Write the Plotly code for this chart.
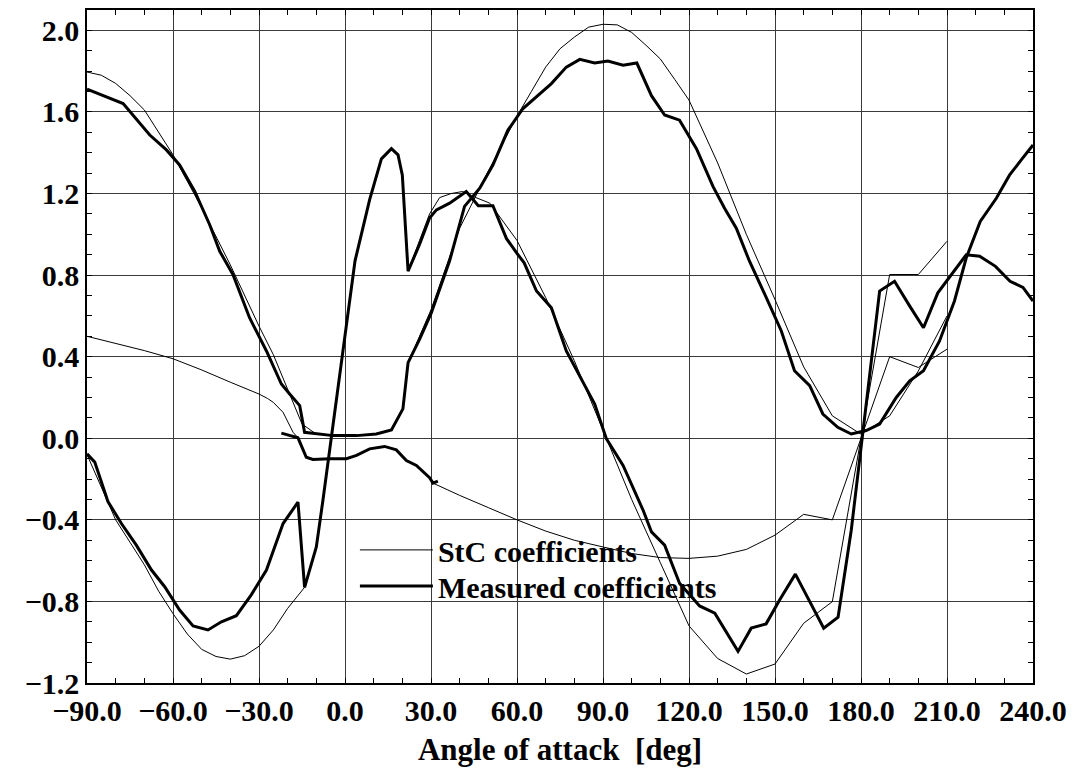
import plotly.graph_objects as go

# ---------------- data ----------------
# Measured drag coefficient
meas_cd_alpha = [-90, -77.4, -68.1, -62.3, -57.7, -52.4, -47.2, -43.7, -39.1, -33.3, -27.4, -22.2, -19.3, -15.8,
                 -14.1, -4.2, 4.0, 10.9, 16.2, 20.2, 22.0, 26.0, 30.1, 36.5, 41.7, 47.0, 51.6, 56.8, 62.1, 66.8,
                 72.0, 77.2, 81.9, 87.1, 91.7, 97.0, 101.8, 106.9, 111.5, 116.7, 122.6, 128.4, 132.4, 136.5,
                 141.1, 147.0, 152.2, 156.8, 162.1, 166.7, 171.9, 176.6, 181.8, 186.5, 192.3, 197.0, 201.8,
                 207.4, 212.6, 216.7, 221.6, 227.2, 231.8, 235.9, 240.0]
meas_cd = [1.712, 1.641, 1.487, 1.414, 1.34, 1.21, 1.047, 0.917, 0.803, 0.591, 0.428, 0.266, 0.217, 0.16,
           0.029, 0.013, 0.013, 0.021, 0.041, 0.144, 0.371, 0.485, 0.615, 0.87, 1.137, 1.226, 1.34, 1.51, 1.617,
           1.674, 1.739, 1.82, 1.858, 1.84, 1.85, 1.829, 1.84, 1.68, 1.585, 1.56, 1.42, 1.234, 1.128, 1.03,
           0.868, 0.689, 0.526, 0.331, 0.258, 0.119, 0.054, 0.021, 0.038, 0.07, 0.2, 0.282, 0.331, 0.477,
           0.673, 0.884, 1.063, 1.177, 1.29, 1.365, 1.438]

# Measured lift coefficient
meas_cl_alpha = [-90, -87.3, -82.7, -78.0, -72.8, -67.5, -62.9, -57.7, -53.0, -47.8, -43.1, -37.9, -32.7, -27.4,
                 -21.6, -16.4, -14.1, -10.0, -7.7, -1.3, 3.5, 8.6, 12.7, 16.2, 18.5, 20.0, 22.0, 26.0, 29.5,
                 31.9, 36.5, 42.3, 46.5, 51.6, 56.3, 59.8, 62.5, 66.8, 72.0, 77.2, 83.0, 87.1, 91.2, 97.0,
                 104.0, 106.9, 111.5, 116.7, 123.7, 129.0, 137.1, 141.7, 146.9, 151.6, 157.1, 162.1, 167.0,
                 172.0, 176.6, 186.5, 191.7, 197.0, 201.8, 206.8, 213.2, 216.7, 221.4, 226.9, 232.0, 236.5, 240.0]
meas_cl = [-0.076, -0.117, -0.31, -0.418, -0.524, -0.646, -0.728, -0.842, -0.92, -0.94, -0.90, -0.87, -0.768,
           -0.646, -0.418, -0.313, -0.731, -0.533, -0.304, 0.38, 0.87, 1.17, 1.37, 1.42, 1.39, 1.29, 0.82, 0.95,
           1.08, 1.12, 1.153, 1.21, 1.14, 1.14, 0.98, 0.91, 0.86, 0.722, 0.64, 0.428, 0.274, 0.168, -0.003,
           -0.133, -0.353, -0.459, -0.524, -0.711, -0.822, -0.858, -1.045, -0.931, -0.91, -0.793, -0.666,
           -0.801, -0.931, -0.877, -0.451, 0.722, 0.77, 0.648, 0.542, 0.713, 0.835, 0.90, 0.893, 0.843, 0.77,
           0.74, 0.673]

# Measured moment coefficient
meas_cm_alpha = [-22.2, -16.4, -13.5, -11.2, -5.3, 0.5, 4.0, 8.6, 13.8, 17.9, 21.4, 24.9, 29.5, 30.7, 32.4]
meas_cm = [0.025, 0.002, -0.093, -0.104, -0.10, -0.10, -0.084, -0.052, -0.04, -0.057, -0.109, -0.133, -0.193,
           -0.22, -0.21]

# StC drag coefficient
stc_cd_alpha = [-90, -85, -80, -75, -70, -65, -60, -50, -40, -30, -25, -20, -15, -10, 0, 10, 16, 20, 22, 30,
                40, 50, 60, 65, 70, 75, 80, 85, 90, 95, 100, 105, 110, 115, 120, 130, 140, 150, 160, 170, 180,
                190, 200, 210]
stc_cd = [1.796, 1.78, 1.74, 1.68, 1.61, 1.50, 1.39, 1.13, 0.85, 0.55, 0.41, 0.24, 0.07, 0.02, 0.01, 0.02,
          0.04, 0.14, 0.37, 0.63, 1.03, 1.31, 1.58, 1.70, 1.82, 1.91, 1.967, 2.016, 2.03, 2.027, 1.99, 1.927,
          1.86, 1.76, 1.658, 1.35, 1.0, 0.68, 0.35, 0.11, 0.02, 0.11, 0.33, 0.6]

# StC lift coefficient
stc_cl_alpha = [-90, -85, -80, -75, -70, -65, -60, -55, -50, -45, -40, -35, -30, -25, -20, -14.1, -10.0, -7.7,
                -1.3, 3.5, 8.6, 12.7, 16.2, 18.5, 20.0, 22.0, 26.0, 29.5, 33, 37, 41, 44.6, 50.5, 60, 70, 80,
                90, 100, 110, 120, 130, 140, 150, 160, 170, 180, 190, 200, 210]
stc_cl = [-0.08, -0.24, -0.40, -0.51, -0.62, -0.75, -0.86, -0.96, -1.035, -1.07, -1.083, -1.066, -1.02, -0.94,
          -0.834, -0.731, -0.533, -0.304, 0.38, 0.87, 1.17, 1.37, 1.42, 1.39, 1.29, 0.82, 0.97, 1.10, 1.18,
          1.20, 1.21, 1.186, 1.153, 0.97, 0.69, 0.38, 0.04, -0.30, -0.61, -0.92, -1.08, -1.156, -1.107,
          -0.907, -0.801, 0.0, 0.803, 0.803, 0.966]

# StC moment coefficient
stc_cm_alpha = [-90, -80, -70, -60, -50, -40, -30, -27, -25, -21.6, -18.1, -16.4, -13.5, -11.2, -5.3, 0.5, 4.0,
                8.6, 13.8, 17.9, 21.4, 24.9, 29.5, 30.7, 40, 50, 60, 70, 80, 90, 100, 110, 120, 130, 140, 150,
                160, 170, 180, 190, 200, 210]
stc_cm = [0.50, 0.465, 0.43, 0.39, 0.335, 0.275, 0.217, 0.195, 0.176, 0.127, 0.029, 0.002, -0.093, -0.104,
          -0.10, -0.10, -0.084, -0.052, -0.04, -0.057, -0.109, -0.133, -0.193, -0.22, -0.28, -0.34, -0.40,
          -0.455, -0.50, -0.533, -0.565, -0.585, -0.589, -0.578, -0.545, -0.475, -0.373, -0.40, 0.0, 0.40,
          0.347, 0.437]

x_tick_vals = [-90, -60, -30, 0, 30, 60, 90, 120, 150, 180, 210, 240]
y_tick_vals = [-1.2, -0.8, -0.4, 0.0, 0.4, 0.8, 1.2, 1.6, 2.0]

# ---------------- figure ----------------
FONT = "Liberation Serif"
thin = dict(color="black", width=1)
thick = dict(color="black", width=3)

fig = go.Figure()
stc_series = [(stc_cd_alpha, stc_cd), (stc_cl_alpha, stc_cl), (stc_cm_alpha, stc_cm)]
meas_series = [(meas_cd_alpha, meas_cd), (meas_cl_alpha, meas_cl), (meas_cm_alpha, meas_cm)]
for i, (a, c) in enumerate(stc_series):
    fig.add_trace(go.Scatter(x=a, y=c, mode="lines", line=thin, name="StC coefficients",
                             legendgroup="stc", showlegend=(i == 0), legend="legend"))
for i, (a, c) in enumerate(meas_series):
    fig.add_trace(go.Scatter(x=a, y=c, mode="lines", line=thick, name="Measured coefficients",
                             legendgroup="meas", showlegend=(i == 0), legend="legend2"))

axis_common = dict(
    ticks="inside", ticklen=5, tickwidth=1, tickcolor="black",
    showline=True, linecolor="black", linewidth=1.5, mirror="ticks",
    showgrid=True, gridcolor="#3a3a3a", gridwidth=1, zeroline=False,
    tickformat=".1f",
    tickfont=dict(family=FONT, size=30, color="black", weight="bold"),
)

legend_common = dict(xanchor="left", yanchor="top", bgcolor="rgba(0,0,0,0)", borderwidth=0,
                     itemwidth=73, font=dict(family=FONT, size=30, color="black", weight="bold"))

fig.update_layout(
    width=1079, height=773,
    margin=dict(l=87, r=46, t=8, b=90),
    paper_bgcolor="white", plot_bgcolor="white",
    xaxis=dict(range=[-90, 240], tickvals=x_tick_vals,
               minor=dict(dtick=10, tick0=-90, ticks="inside", ticklen=5, tickcolor="black", showgrid=False),
               title=dict(text="Angle of attack\u00a0 [deg]", standoff=13,
                          font=dict(family=FONT, size=31, color="black", weight="bold")),
               **axis_common),
    yaxis=dict(range=[-1.2, 2.1], tickvals=y_tick_vals,
               minor=dict(dtick=0.1, tick0=-1.2, ticks="inside", ticklen=5, tickcolor="black", showgrid=False),
               **axis_common),
    legend=dict(x=0.2832, y=0.2364, **legend_common),
    legend2=dict(x=0.2832, y=0.1827, **legend_common),
)

fig.write_html("out.html")
